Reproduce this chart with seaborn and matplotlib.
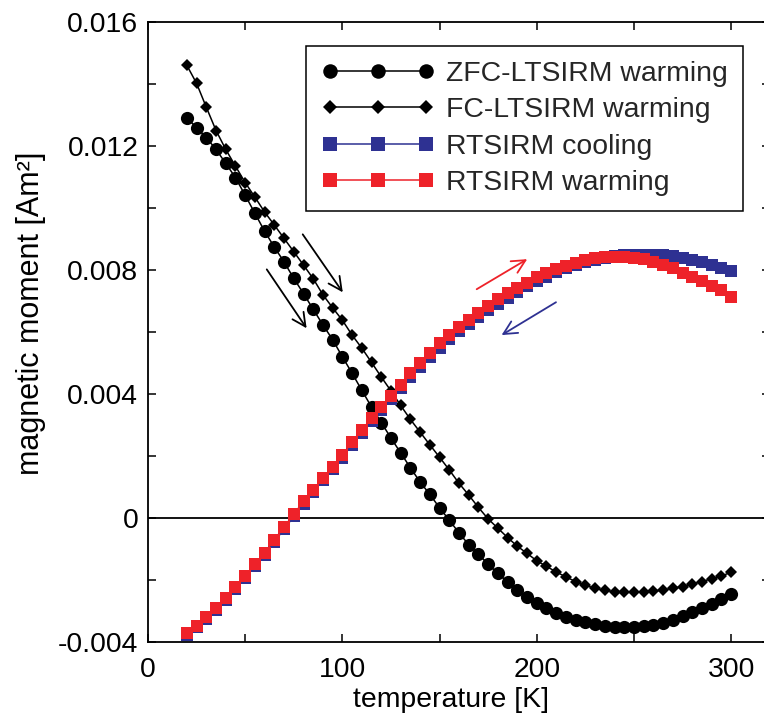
import numpy as np
import pandas as pd
import matplotlib
matplotlib.use("Agg")
import matplotlib.pyplot as plt
from matplotlib.ticker import MultipleLocator, FixedLocator, FixedFormatter
import seaborn as sns

# Measurement temperatures [K]
temperature = [20, 25, 30, 35, 40, 45, 50, 55, 60, 65, 70, 75, 80, 85, 90, 95,
               100, 105, 110, 115, 120, 125, 130, 135, 140, 145, 150, 155, 160,
               165, 170, 175, 180, 185, 190, 195, 200, 205, 210, 215, 220, 225,
               230, 235, 240, 245, 250, 255, 260, 265, 270, 275, 280, 285, 290,
               295, 300]

# Magnetic moments in units of 1e-3 Am^2
zfc_warming = [12.91, 12.59, 12.27, 11.89, 11.44, 10.98, 10.41, 9.83, 9.25, 8.74,
               8.26, 7.73, 7.24, 6.73, 6.23, 5.75, 5.20, 4.67, 4.12, 3.58, 3.08,
               2.58, 2.10, 1.62, 1.16, 0.76, 0.33, -0.07, -0.48, -0.86, -1.17,
               -1.49, -1.79, -2.06, -2.33, -2.55, -2.75, -2.91, -3.05, -3.18,
               -3.29, -3.37, -3.43, -3.47, -3.50, -3.51, -3.51, -3.49, -3.45,
               -3.38, -3.28, -3.16, -3.03, -2.90, -2.76, -2.62, -2.45]

fc_warming = [14.60, 14.02, 13.25, 12.50, 11.89, 11.35, 10.82, 10.35, 9.87, 9.45,
              9.02, 8.59, 8.16, 7.72, 7.20, 6.78, 6.38, 5.90, 5.48, 5.02, 4.55,
              4.10, 3.63, 3.18, 2.77, 2.36, 1.96, 1.55, 1.12, 0.74, 0.34, -0.03,
              -0.33, -0.63, -0.91, -1.14, -1.38, -1.56, -1.74, -1.90, -2.05,
              -2.17, -2.27, -2.33, -2.38, -2.40, -2.40, -2.39, -2.36, -2.32,
              -2.27, -2.21, -2.13, -2.05, -1.96, -1.87, -1.75]

rt_cooling = [-3.76, -3.52, -3.25, -2.96, -2.64, -2.30, -1.93, -1.55, -1.19, -0.77,
              -0.36, 0.05, 0.46, 0.83, 1.22, 1.57, 1.95, 2.37, 2.75, 3.12, 3.49,
              3.85, 4.18, 4.55, 4.87, 5.18, 5.50, 5.76, 6.03, 6.25, 6.48, 6.70,
              6.91, 7.11, 7.29, 7.47, 7.64, 7.79, 7.93, 8.05, 8.16, 8.25, 8.33,
              8.39, 8.44, 8.48, 8.50, 8.50, 8.49, 8.47, 8.44, 8.39, 8.32, 8.25,
              8.16, 8.06, 7.96]

rt_warming = [-3.72, -3.48, -3.20, -2.91, -2.59, -2.24, -1.87, -1.48, -1.12, -0.70,
              -0.29, 0.12, 0.54, 0.90, 1.30, 1.65, 2.03, 2.46, 2.84, 3.22, 3.59,
              3.95, 4.29, 4.67, 4.99, 5.31, 5.64, 5.90, 6.17, 6.39, 6.62, 6.84,
              7.05, 7.25, 7.42, 7.59, 7.76, 7.90, 8.03, 8.14, 8.24, 8.31, 8.38,
              8.41, 8.43, 8.42, 8.39, 8.35, 8.27, 8.16, 8.05, 7.91, 7.78, 7.63,
              7.50, 7.36, 7.12]

series_labels = ["ZFC-LTSIRM warming", "FC-LTSIRM warming",
                 "RTSIRM cooling", "RTSIRM warming"]

y_tick_values = [-0.004, 0.0, 0.004, 0.008, 0.012, 0.016]
y_tick_labels = ["-0.004", "0", "0.004", "0.008", "0.012", "0.016"]
x_tick_values = [0, 100, 200, 300]
x_tick_labels = ["0", "100", "200", "300"]

BLUE = "#2E3192"
RED = "#EE2229"

sns.set_style("ticks")
plt.rcParams["font.family"] = ["Liberation Sans", "DejaVu Sans"]
plt.rcParams["font.size"] = 20.4

scale = 1e-3
df = pd.DataFrame({
    "T": temperature,
    "zfc": np.array(zfc_warming) * scale,
    "fc": np.array(fc_warming) * scale,
    "rtc": np.array(rt_cooling) * scale,
    "rtw": np.array(rt_warming) * scale,
})

fig = plt.figure(figsize=(7.64, 7.13), dpi=100)
ax = fig.add_axes([148 / 764, 71 / 713, 622 / 764, 620 / 713])

ax.axhline(0, color="black", lw=1.3, zorder=1)

line_kw = dict(lw=1.1, markeredgewidth=0)
sns.lineplot(data=df, x="T", y="zfc", ax=ax, color="black", marker="o",
             markersize=9.5, label=series_labels[0], **line_kw)
sns.lineplot(data=df, x="T", y="fc", ax=ax, color="black", marker="D",
             markersize=6.2, label=series_labels[1], **line_kw)
sns.lineplot(data=df, x="T", y="rtc", ax=ax, color=BLUE, marker="s",
             markersize=8.8, label=series_labels[2], **line_kw)
sns.lineplot(data=df, x="T", y="rtw", ax=ax, color=RED, marker="s",
             markersize=8.8, label=series_labels[3], **line_kw)

# Direction arrows along the curves
arrows = [
    ((61.1, 8.02), (81.6, 6.12), "black"),
    ((79.6, 9.15), (100.2, 7.28), "black"),
    ((169.1, 7.38), (195.1, 8.35), RED),
    ((209.9, 6.96), (181.9, 5.90), BLUE),
]
for (x0, y0), (x1, y1), c in arrows:
    ax.annotate("", xy=(x1, y1 * scale), xytext=(x0, y0 * scale),
                arrowprops=dict(arrowstyle="->", color=c, lw=1.3,
                                mutation_scale=24, shrinkA=0, shrinkB=0))

ax.set_xlim(0, 320)
ax.set_ylim(-0.004, 0.016)
ax.xaxis.set_major_locator(FixedLocator(x_tick_values))
ax.xaxis.set_major_formatter(FixedFormatter(x_tick_labels))
ax.xaxis.set_minor_locator(MultipleLocator(50))
ax.yaxis.set_major_locator(FixedLocator(y_tick_values))
ax.yaxis.set_major_formatter(FixedFormatter(y_tick_labels))
ax.yaxis.set_minor_locator(MultipleLocator(0.002))

ax.tick_params(which="both", direction="in", top=True, right=True,
               length=5.5, width=1.1, color="black", labelsize=20.4,
               labelcolor="black")
ax.tick_params(axis="x", which="major", pad=10.5)
ax.tick_params(axis="y", which="major", pad=7)
for s in ax.spines.values():
    s.set_linewidth(1.3)
    s.set_color("black")

ax.set_xlabel("temperature [K]", fontsize=20.4, color="black")
ax.set_ylabel("magnetic moment [Am²]", fontsize=22, color="black")
ax.xaxis.set_label_coords((451 - 148) / 622, (642 - 687) / 620)
ax.yaxis.set_label_coords((46 - 148) / 622, (642 - 313) / 620)

leg = ax.legend(loc="upper right", bbox_to_anchor=(0.957, 0.961),
                frameon=True, fancybox=False, framealpha=1, edgecolor="black",
                fontsize=20.4, handlelength=4.0, handletextpad=0.42,
                labelspacing=0.36, borderpad=0.53, borderaxespad=0,
                markerscale=1.1, numpoints=3)
leg.get_frame().set_linewidth(1.1)

fig.savefig("out.png", dpi=100)
